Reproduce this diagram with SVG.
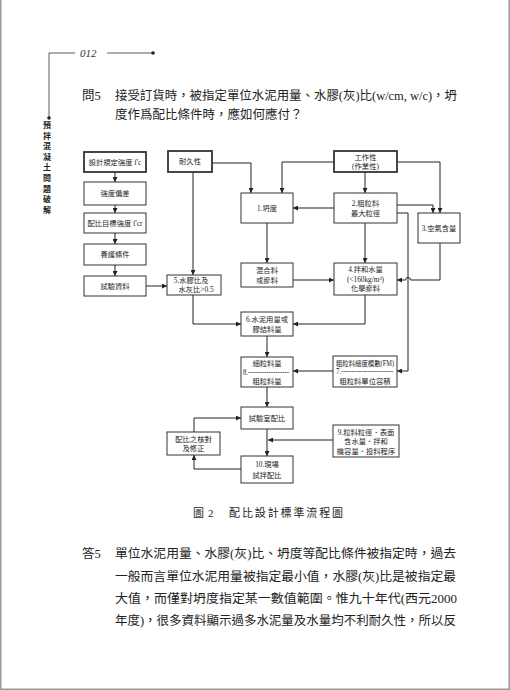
<svg xmlns="http://www.w3.org/2000/svg" width="510" height="690" viewBox="0 0 510 690">
<defs>
<style>
.page{font-family:"Liberation Serif","Noto Sans CJK TC",serif;fill:#222;}
.body{font-size:12.5px;}
.bx rect{fill:#fff;stroke:#333;stroke-width:1;}
.bx.bold rect{stroke-width:1.8;}
.bx text{font-family:"Liberation Serif","Noto Sans CJK TC",serif;font-size:7.3px;fill:#222;text-anchor:middle;}
.bx text.st{text-anchor:start;}
.cn path{fill:none;stroke:#222;stroke-width:1;}
</style>
<marker id="ah" viewBox="0 0 10 10" refX="10" refY="5" markerWidth="5" markerHeight="5" orient="auto" markerUnits="userSpaceOnUse">
<path d="M0,0 L10,5 L0,10 Z" fill="#222"/>
</marker>
</defs>
<rect x="0" y="0" width="510" height="690" fill="#fff"/>
<path d="M0.8,0 V689.2 H509.2 V0" fill="none" stroke="#999" stroke-width="1.5"/>

<!-- header -->
<g id="header">
<path d="M49,53 H75 M107,53 H153 M49,53 V118" stroke="#333" stroke-width="0.8" fill="none"/>
<circle cx="153" cy="53" r="1.8" fill="#222"/>
<circle cx="49" cy="118" r="1.8" fill="#222"/>
<text x="80" y="57" font-family="Liberation Serif, serif" font-style="italic" font-size="11" fill="#333">012</text>
<text class="page" font-size="8" font-weight="bold" text-anchor="middle">
<tspan x="47" y="128">預</tspan><tspan x="47" y="138.6">拌</tspan><tspan x="47" y="149.2">混</tspan><tspan x="47" y="159.8">凝</tspan><tspan x="47" y="170.4">土</tspan><tspan x="47" y="181">問</tspan><tspan x="47" y="191.6">題</tspan><tspan x="47" y="202.2">破</tspan><tspan x="47" y="212.8">解</tspan>
</text>
</g>

<!-- question -->
<g id="question" class="page body">
<text x="82" y="100">問5</text>
<text x="115" y="100" textLength="342" lengthAdjust="spacingAndGlyphs">接受訂貨時，被指定單位水泥用量、水膠(灰)比(w/cm, w/c)，坍</text>
<text x="115" y="119">度作爲配比條件時，應如何應付？</text>
</g>

<!-- connectors -->
<g id="connectors" class="cn">
<path d="M115,172 V182" marker-end="url(#ah)"/>
<path d="M115,205 V213" marker-end="url(#ah)"/>
<path d="M115,233 V244" marker-end="url(#ah)"/>
<path d="M115,265 V276" marker-end="url(#ah)"/>
<path d="M146,286 H167" marker-end="url(#ah)"/>
<path d="M193,172 V275" marker-end="url(#ah)"/>
<path d="M212,163 H251 V193" marker-end="url(#ah)"/>
<path d="M334,162 H282 V193" marker-end="url(#ah)"/>
<path d="M365,172 V193" marker-end="url(#ah)"/>
<path d="M334,208 H293" marker-end="url(#ah)"/>
<path d="M397,162 H440 V213" marker-end="url(#ah)"/>
<path d="M397,205 H433 V213" marker-end="url(#ah)"/>
<path d="M397,213 H408 V371 H397" marker-end="url(#ah)"/>
<path d="M440,243 V280 H410.5 A2.5,2.5 0 0 0 405.5,280 H397" marker-end="url(#ah)"/>
<path d="M267,223 V263" marker-end="url(#ah)"/>
<path d="M293,280 H334" marker-end="url(#ah)"/>
<path d="M365,223 V263" marker-end="url(#ah)"/>
<path d="M193,295 V324 H241" marker-end="url(#ah)"/>
<path d="M365,295 V324 H293" marker-end="url(#ah)"/>
<path d="M267,336 V357" marker-end="url(#ah)"/>
<path d="M333,371 H293" marker-end="url(#ah)"/>
<path d="M267,387 V407" marker-end="url(#ah)"/>
<path d="M267,429 V456" marker-end="url(#ah)"/>
<path d="M333,440 H268" marker-end="url(#ah)"/>
<path d="M241,469 H194 V455" marker-end="url(#ah)"/>
<path d="M194,432 V418 H241" marker-end="url(#ah)"/>
</g>

<!-- nodes -->
<g id="n-design" class="bx bold"><rect x="84" y="152" width="62" height="20"/><text x="115" y="164.5">設計規定強度 f'c</text></g>
<g id="n-dev" class="bx"><rect x="84" y="182" width="62" height="23"/><text x="115" y="196">強度偏差</text></g>
<g id="n-target" class="bx"><rect x="84" y="213" width="62" height="20"/><text x="115" y="225.5">配比目標強度 f'cr</text></g>
<g id="n-cure" class="bx"><rect x="84" y="244" width="62" height="21"/><text x="115" y="257">養護條件</text></g>
<g id="n-test" class="bx"><rect x="84" y="276" width="62" height="20"/><text x="115" y="288.5">試驗資料</text></g>
<g id="n-dur" class="bx bold"><rect x="168" y="151" width="44" height="21"/><text x="190" y="164">耐久性</text></g>
<g id="n-work" class="bx bold"><rect x="334" y="151" width="63" height="21"/><text x="365.5" y="159.5">工作性</text><text x="365.5" y="168.5">(作業性)</text></g>
<g id="n1" class="bx"><rect x="241" y="193" width="52" height="30"/><text x="267" y="210.5">1.坍度</text></g>
<g id="n2" class="bx"><rect x="334" y="193" width="63" height="30"/><text x="365.5" y="205.5">2.粗粒料</text><text x="365.5" y="215.5">最大粒徑</text></g>
<g id="n3" class="bx"><rect x="418" y="213" width="42" height="30"/><text x="439" y="230.5">3.空氣含量</text></g>
<g id="n-mix" class="bx"><rect x="241" y="263" width="52" height="24"/><text x="267" y="273">混合料</text><text x="267" y="283">或摻料</text></g>
<g id="n4" class="bx"><rect x="334" y="263" width="63" height="32"/><text x="365.5" y="272">4.拌和水量</text><text x="365.5" y="281.5">(&lt;160kg/m³)</text><text x="365.5" y="291">化學摻料</text></g>
<g id="n5" class="bx"><rect x="167" y="275" width="54" height="20"/><text x="191" y="283">5.水膠比及</text><text x="196" y="292">水灰比&gt;0.5</text></g>
<g id="n6" class="bx"><rect x="241" y="312" width="52" height="24"/><text x="267" y="322">6.水泥用量或</text><text x="267" y="332">膠結料量</text></g>
<g id="n8" class="bx"><rect x="241" y="357" width="52" height="30"/><text x="267" y="366">細粒料量</text><text class="st" x="243" y="374.5" textLength="46" lengthAdjust="spacingAndGlyphs">8.------------------</text><text x="267" y="384">粗粒料量</text></g>
<g id="n7" class="bx"><rect x="333" y="356" width="64" height="31"/><text x="365" y="365.5" font-size="6.2" textLength="58" lengthAdjust="spacingAndGlyphs">粗粒料細度模數(FM)</text><text class="st" x="336" y="374" textLength="57" lengthAdjust="spacingAndGlyphs">7.----------------------</text><text x="365" y="384">粗粒料單位容積</text></g>
<g id="n-lab" class="bx"><rect x="241" y="407" width="52" height="22"/><text x="267" y="420.5">試驗室配比</text></g>
<g id="n-check" class="bx"><rect x="167" y="432" width="53" height="23"/><text x="193.5" y="441.5">配比之核對</text><text x="193.5" y="451">及修正</text></g>
<g id="n10" class="bx"><rect x="241" y="456" width="52" height="27"/><text x="267" y="467">10.現場</text><text x="267" y="477.5">試拌配比</text></g>
<g id="n9" class="bx"><rect x="333" y="425" width="66" height="32"/><text x="366" y="434.5">9.粒料粒徑．表面</text><text x="366" y="444">含水量．拌和</text><text x="366" y="453.5">機容量．投料程序</text></g>

<!-- caption -->
<g id="caption" class="page" font-size="11">
<text x="193" y="517">圖</text>
<text x="208" y="517">2</text>
<text x="229" y="517" textLength="114" lengthAdjust="spacing">配比設計標準流程圖</text>
</g>

<!-- answer -->
<g id="answer" class="page body">
<text x="82" y="558">答5</text>
<text x="115" y="558" textLength="341" lengthAdjust="spacingAndGlyphs">單位水泥用量、水膠(灰)比、坍度等配比條件被指定時，過去</text>
<text x="115" y="581" textLength="341" lengthAdjust="spacingAndGlyphs">一般而言單位水泥用量被指定最小值，水膠(灰)比是被指定最</text>
<text x="115" y="603" textLength="342" lengthAdjust="spacingAndGlyphs">大值，而僅對坍度指定某一數值範圍。惟九十年代(西元2000</text>
<text x="115" y="625" textLength="341" lengthAdjust="spacingAndGlyphs">年度)，很多資料顯示過多水泥量及水量均不利耐久性，所以反</text>
</g>
</svg>
